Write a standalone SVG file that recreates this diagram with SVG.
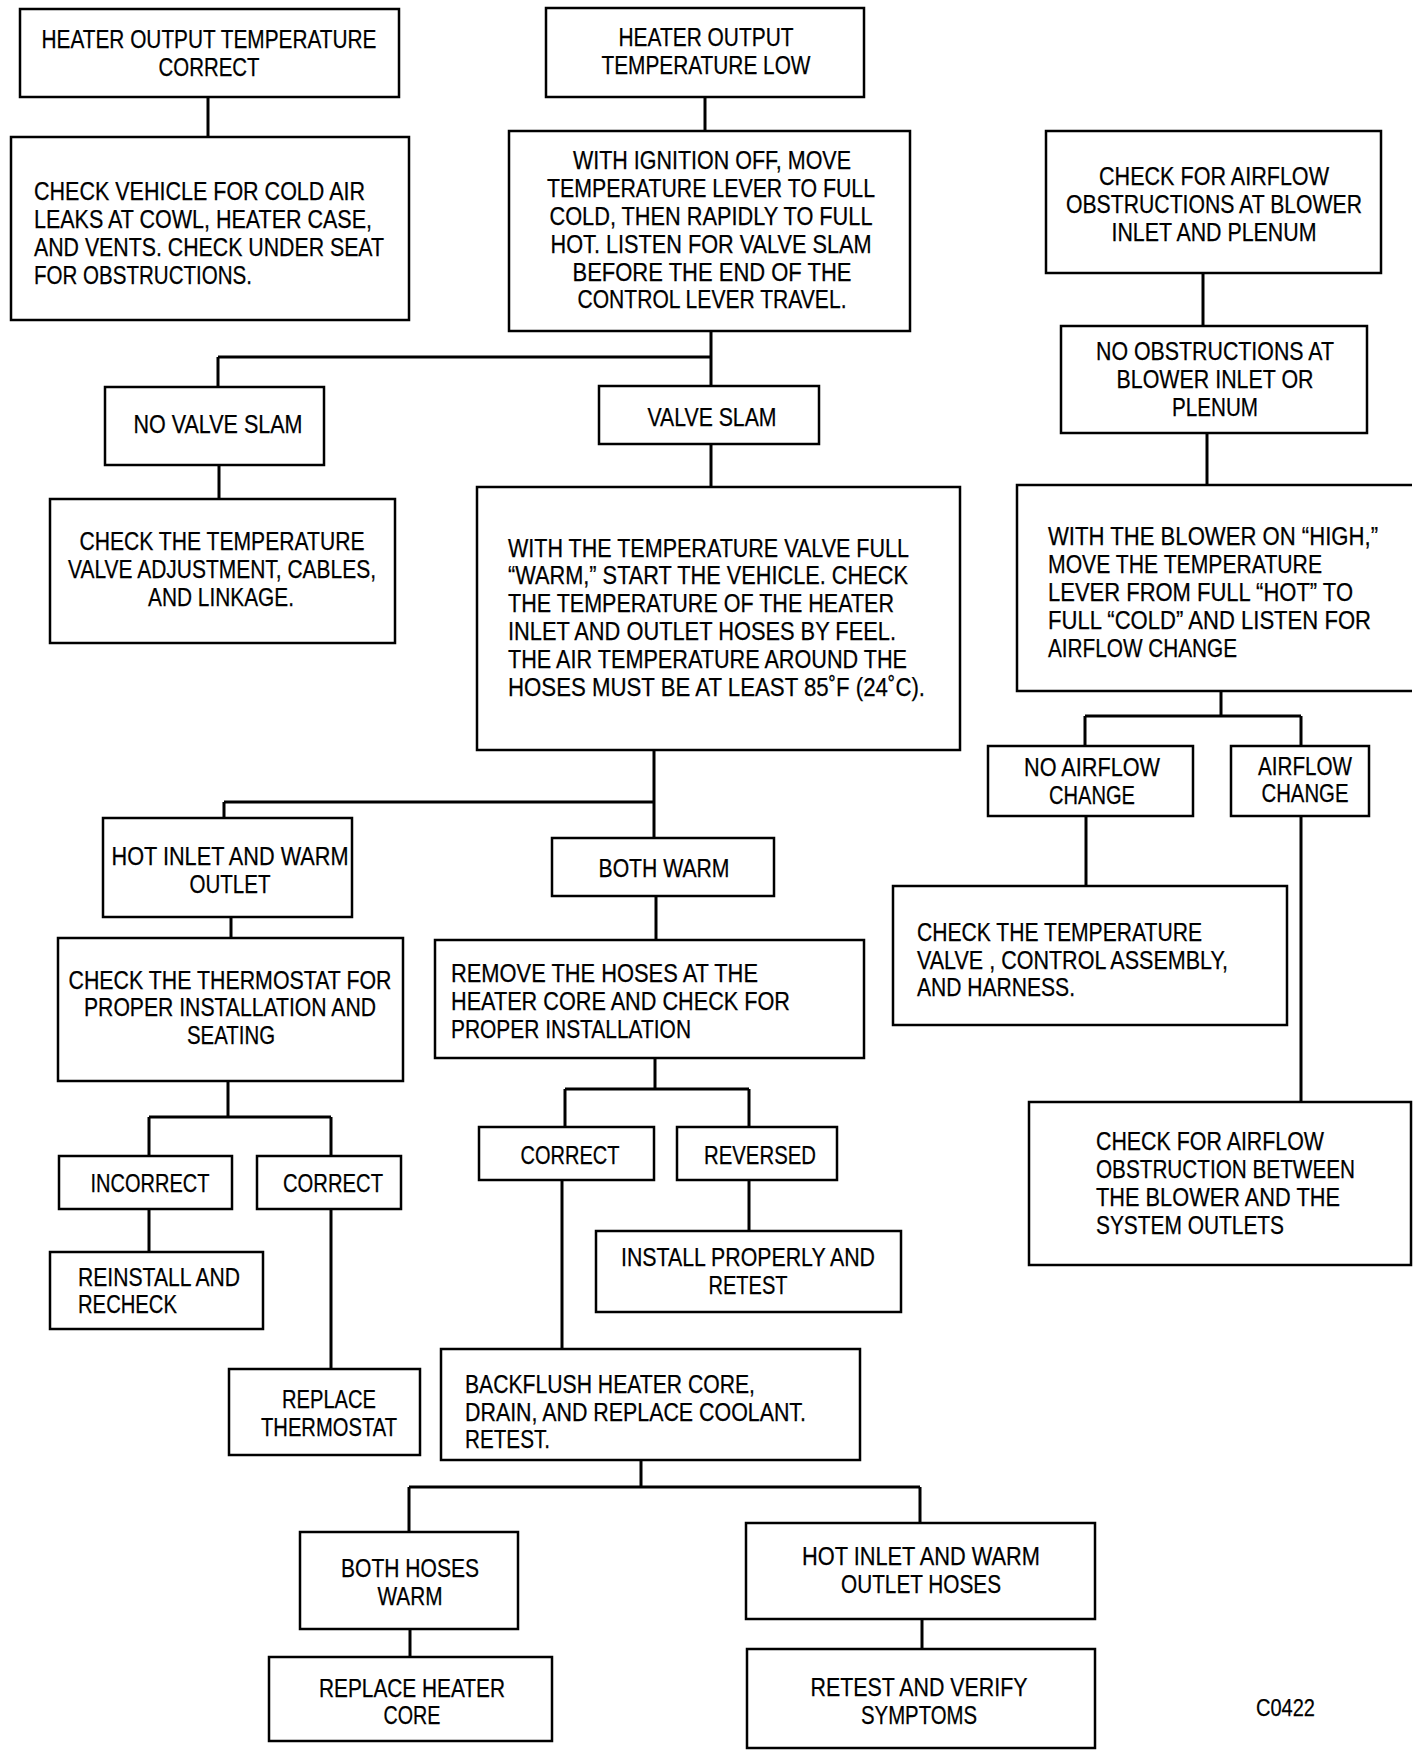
<svg xmlns="http://www.w3.org/2000/svg" width="1424" height="1756" viewBox="0 0 1424 1756">
<style>
.b{fill:#fff;stroke:#000;stroke-width:2.5}
text{font-family:"Liberation Sans",Arial,sans-serif;font-size:25.5px;fill:#000;stroke:#000;stroke-width:0.25}
.m{text-anchor:middle}
#connectors path{fill:none;stroke:#000;stroke-width:3}
</style>
<rect width="1424" height="1756" fill="#fff"/>
<g id="connectors">
<path d="M208 97V137"/>
<path d="M705 97V131"/>
<path d="M711 331V386M218 357H711M218 357V387"/>
<path d="M219 465V499"/>
<path d="M711 444V487"/>
<path d="M1203 273V326"/>
<path d="M1207 433V484"/>
<path d="M1221 691V716M1085 716H1301M1085 716V746M1301 716V746"/>
<path d="M1086 816V886"/>
<path d="M1301 816V1102"/>
<path d="M654 750V838M224 802H654M224 802V818"/>
<path d="M231 917V938"/>
<path d="M656 896V940"/>
<path d="M228 1081V1117M149 1117H331M149 1117V1156M331 1117V1156"/>
<path d="M149 1209V1252"/>
<path d="M331 1209V1369"/>
<path d="M655 1058V1089M565 1089H749M565 1089V1127M749 1089V1127"/>
<path d="M562 1180V1349"/>
<path d="M749 1180V1231"/>
<path d="M641 1460V1487M409 1487H920M409 1487V1532M920 1487V1523"/>
<path d="M410 1629V1657"/>
<path d="M922 1619V1649"/>
</g>
<g id="n1"><rect class="b" x="20" y="9" width="379" height="88"/>
<text class="m" x="209" y="48" textLength="335" lengthAdjust="spacingAndGlyphs">HEATER OUTPUT TEMPERATURE</text>
<text class="m" x="209" y="76" textLength="101" lengthAdjust="spacingAndGlyphs">CORRECT</text></g>
<g id="n2"><rect class="b" x="546" y="8" width="318" height="89"/>
<text class="m" x="706" y="46" textLength="175" lengthAdjust="spacingAndGlyphs">HEATER OUTPUT</text>
<text class="m" x="706" y="74" textLength="209" lengthAdjust="spacingAndGlyphs">TEMPERATURE LOW</text></g>
<g id="n3"><rect class="b" x="11" y="137" width="398" height="183"/>
<text x="34" y="200" textLength="331" lengthAdjust="spacingAndGlyphs">CHECK VEHICLE FOR COLD AIR</text>
<text x="34" y="228" textLength="338" lengthAdjust="spacingAndGlyphs">LEAKS AT COWL, HEATER CASE,</text>
<text x="34" y="256" textLength="350" lengthAdjust="spacingAndGlyphs">AND VENTS. CHECK UNDER SEAT</text>
<text x="34" y="284" textLength="218" lengthAdjust="spacingAndGlyphs">FOR OBSTRUCTIONS.</text></g>
<g id="n4"><rect class="b" x="509" y="131" width="401" height="200"/>
<text class="m" x="712" y="169" textLength="278" lengthAdjust="spacingAndGlyphs">WITH IGNITION OFF, MOVE</text>
<text class="m" x="711" y="197" textLength="328" lengthAdjust="spacingAndGlyphs">TEMPERATURE LEVER TO FULL</text>
<text class="m" x="711" y="225" textLength="323" lengthAdjust="spacingAndGlyphs">COLD, THEN RAPIDLY TO FULL</text>
<text class="m" x="711" y="253" textLength="321" lengthAdjust="spacingAndGlyphs">HOT. LISTEN FOR VALVE SLAM</text>
<text class="m" x="712" y="281" textLength="279" lengthAdjust="spacingAndGlyphs">BEFORE THE END OF THE</text>
<text class="m" x="712" y="308" textLength="269" lengthAdjust="spacingAndGlyphs">CONTROL LEVER TRAVEL.</text></g>
<g id="n5"><rect class="b" x="1046" y="131" width="335" height="142"/>
<text class="m" x="1214" y="185" textLength="230" lengthAdjust="spacingAndGlyphs">CHECK FOR AIRFLOW</text>
<text class="m" x="1214" y="213" textLength="296" lengthAdjust="spacingAndGlyphs">OBSTRUCTIONS AT BLOWER</text>
<text class="m" x="1214" y="241" textLength="205" lengthAdjust="spacingAndGlyphs">INLET AND PLENUM</text></g>
<g id="n6"><rect class="b" x="1061" y="326" width="306" height="107"/>
<text class="m" x="1215" y="360" textLength="238" lengthAdjust="spacingAndGlyphs">NO OBSTRUCTIONS AT</text>
<text class="m" x="1215" y="388" textLength="197" lengthAdjust="spacingAndGlyphs">BLOWER INLET OR</text>
<text class="m" x="1215" y="416" textLength="86" lengthAdjust="spacingAndGlyphs">PLENUM</text></g>
<g id="n7"><rect class="b" x="105" y="387" width="219" height="78"/>
<text class="m" x="218" y="433" textLength="169" lengthAdjust="spacingAndGlyphs">NO VALVE SLAM</text></g>
<g id="n8"><rect class="b" x="599" y="386" width="220" height="58"/>
<text class="m" x="712" y="426" textLength="129" lengthAdjust="spacingAndGlyphs">VALVE SLAM</text></g>
<g id="n9"><rect class="b" x="50" y="499" width="345" height="144"/>
<text class="m" x="222" y="550" textLength="285" lengthAdjust="spacingAndGlyphs">CHECK THE TEMPERATURE</text>
<text class="m" x="222" y="578" textLength="308" lengthAdjust="spacingAndGlyphs">VALVE ADJUSTMENT, CABLES,</text>
<text class="m" x="221" y="606" textLength="146" lengthAdjust="spacingAndGlyphs">AND LINKAGE.</text></g>
<g id="n10"><rect class="b" x="477" y="487" width="483" height="263"/>
<text x="508" y="557" textLength="401" lengthAdjust="spacingAndGlyphs">WITH THE TEMPERATURE VALVE FULL</text>
<text x="508" y="584" textLength="400" lengthAdjust="spacingAndGlyphs">“WARM,” START THE VEHICLE. CHECK</text>
<text x="508" y="612" textLength="386" lengthAdjust="spacingAndGlyphs">THE TEMPERATURE OF THE HEATER</text>
<text x="508" y="640" textLength="388" lengthAdjust="spacingAndGlyphs">INLET AND OUTLET HOSES BY FEEL.</text>
<text x="508" y="668" textLength="399" lengthAdjust="spacingAndGlyphs">THE AIR TEMPERATURE AROUND THE</text>
<text x="508" y="696" textLength="417" lengthAdjust="spacingAndGlyphs">HOSES MUST BE AT LEAST 85˚F (24˚C).</text></g>
<g id="n11"><path class="b" d="M1412 485H1017V691H1412"/>
<text x="1048" y="545" textLength="330" lengthAdjust="spacingAndGlyphs">WITH THE BLOWER ON “HIGH,”</text>
<text x="1048" y="573" textLength="274" lengthAdjust="spacingAndGlyphs">MOVE THE TEMPERATURE</text>
<text x="1048" y="601" textLength="305" lengthAdjust="spacingAndGlyphs">LEVER FROM FULL “HOT” TO</text>
<text x="1048" y="629" textLength="323" lengthAdjust="spacingAndGlyphs">FULL “COLD” AND LISTEN FOR</text>
<text x="1048" y="657" textLength="189" lengthAdjust="spacingAndGlyphs">AIRFLOW CHANGE</text></g>
<g id="n12"><rect class="b" x="988" y="746" width="205" height="70"/>
<text class="m" x="1092" y="776" textLength="136" lengthAdjust="spacingAndGlyphs">NO AIRFLOW</text>
<text class="m" x="1092" y="804" textLength="86" lengthAdjust="spacingAndGlyphs">CHANGE</text></g>
<g id="n13"><rect class="b" x="1231" y="746" width="138" height="70"/>
<text class="m" x="1305" y="775" textLength="94" lengthAdjust="spacingAndGlyphs">AIRFLOW</text>
<text class="m" x="1305" y="802" textLength="87" lengthAdjust="spacingAndGlyphs">CHANGE</text></g>
<g id="n14"><rect class="b" x="103" y="818" width="249" height="99"/>
<text class="m" x="230" y="865" textLength="237" lengthAdjust="spacingAndGlyphs">HOT INLET AND WARM</text>
<text class="m" x="230" y="893" textLength="81" lengthAdjust="spacingAndGlyphs">OUTLET</text></g>
<g id="n15"><rect class="b" x="552" y="838" width="222" height="58"/>
<text class="m" x="664" y="877" textLength="131" lengthAdjust="spacingAndGlyphs">BOTH WARM</text></g>
<g id="n16"><rect class="b" x="893" y="886" width="394" height="139"/>
<text x="917" y="941" textLength="285" lengthAdjust="spacingAndGlyphs">CHECK THE TEMPERATURE</text>
<text x="917" y="969" textLength="311" lengthAdjust="spacingAndGlyphs">VALVE , CONTROL ASSEMBLY,</text>
<text x="917" y="996" textLength="158" lengthAdjust="spacingAndGlyphs">AND HARNESS.</text></g>
<g id="n17"><rect class="b" x="58" y="938" width="345" height="143"/>
<text class="m" x="230" y="989" textLength="323" lengthAdjust="spacingAndGlyphs">CHECK THE THERMOSTAT FOR</text>
<text class="m" x="230" y="1016" textLength="292" lengthAdjust="spacingAndGlyphs">PROPER INSTALLATION AND</text>
<text class="m" x="231" y="1044" textLength="88" lengthAdjust="spacingAndGlyphs">SEATING</text></g>
<g id="n18"><rect class="b" x="435" y="940" width="429" height="118"/>
<text x="451" y="982" textLength="307" lengthAdjust="spacingAndGlyphs">REMOVE THE HOSES AT THE</text>
<text x="451" y="1010" textLength="339" lengthAdjust="spacingAndGlyphs">HEATER CORE AND CHECK FOR</text>
<text x="451" y="1038" textLength="240" lengthAdjust="spacingAndGlyphs">PROPER INSTALLATION</text></g>
<g id="n19"><rect class="b" x="59" y="1156" width="173" height="53"/>
<text class="m" x="150" y="1192" textLength="119" lengthAdjust="spacingAndGlyphs">INCORRECT</text></g>
<g id="n20"><rect class="b" x="257" y="1156" width="144" height="53"/>
<text class="m" x="333" y="1192" textLength="100" lengthAdjust="spacingAndGlyphs">CORRECT</text></g>
<g id="n21"><rect class="b" x="479" y="1127" width="175" height="53"/>
<text class="m" x="570" y="1164" textLength="99" lengthAdjust="spacingAndGlyphs">CORRECT</text></g>
<g id="n22"><rect class="b" x="677" y="1127" width="160" height="53"/>
<text class="m" x="760" y="1164" textLength="112" lengthAdjust="spacingAndGlyphs">REVERSED</text></g>
<g id="n23"><rect class="b" x="1029" y="1102" width="382" height="163"/>
<text x="1096" y="1150" textLength="228" lengthAdjust="spacingAndGlyphs">CHECK FOR AIRFLOW</text>
<text x="1096" y="1178" textLength="259" lengthAdjust="spacingAndGlyphs">OBSTRUCTION BETWEEN</text>
<text x="1096" y="1206" textLength="244" lengthAdjust="spacingAndGlyphs">THE BLOWER AND THE</text>
<text x="1096" y="1234" textLength="188" lengthAdjust="spacingAndGlyphs">SYSTEM OUTLETS</text></g>
<g id="n24"><rect class="b" x="50" y="1252" width="213" height="77"/>
<text x="78" y="1286" textLength="162" lengthAdjust="spacingAndGlyphs">REINSTALL AND</text>
<text x="78" y="1313" textLength="99" lengthAdjust="spacingAndGlyphs">RECHECK</text></g>
<g id="n25"><rect class="b" x="596" y="1231" width="305" height="81"/>
<text class="m" x="748" y="1266" textLength="254" lengthAdjust="spacingAndGlyphs">INSTALL PROPERLY AND</text>
<text class="m" x="748" y="1294" textLength="79" lengthAdjust="spacingAndGlyphs">RETEST</text></g>
<g id="n26"><rect class="b" x="229" y="1369" width="191" height="86"/>
<text class="m" x="329" y="1408" textLength="94" lengthAdjust="spacingAndGlyphs">REPLACE</text>
<text class="m" x="329" y="1436" textLength="136" lengthAdjust="spacingAndGlyphs">THERMOSTAT</text></g>
<g id="n27"><rect class="b" x="441" y="1349" width="419" height="111"/>
<text x="465" y="1393" textLength="290" lengthAdjust="spacingAndGlyphs">BACKFLUSH HEATER CORE,</text>
<text x="465" y="1421" textLength="341" lengthAdjust="spacingAndGlyphs">DRAIN, AND REPLACE COOLANT.</text>
<text x="465" y="1448" textLength="85" lengthAdjust="spacingAndGlyphs">RETEST.</text></g>
<g id="n28"><rect class="b" x="300" y="1532" width="218" height="97"/>
<text class="m" x="410" y="1577" textLength="138" lengthAdjust="spacingAndGlyphs">BOTH HOSES</text>
<text class="m" x="410" y="1605" textLength="65" lengthAdjust="spacingAndGlyphs">WARM</text></g>
<g id="n29"><rect class="b" x="746" y="1523" width="349" height="96"/>
<text class="m" x="921" y="1565" textLength="238" lengthAdjust="spacingAndGlyphs">HOT INLET AND WARM</text>
<text class="m" x="921" y="1593" textLength="160" lengthAdjust="spacingAndGlyphs">OUTLET HOSES</text></g>
<g id="n30"><rect class="b" x="269" y="1657" width="283" height="84"/>
<text class="m" x="412" y="1697" textLength="186" lengthAdjust="spacingAndGlyphs">REPLACE HEATER</text>
<text class="m" x="412" y="1724" textLength="57" lengthAdjust="spacingAndGlyphs">CORE</text></g>
<g id="n31"><rect class="b" x="747" y="1649" width="348" height="99"/>
<text class="m" x="919" y="1696" textLength="217" lengthAdjust="spacingAndGlyphs">RETEST AND VERIFY</text>
<text class="m" x="919" y="1724" textLength="116" lengthAdjust="spacingAndGlyphs">SYMPTOMS</text></g>
<text x="1256" y="1716" textLength="59" lengthAdjust="spacingAndGlyphs" style="font-size:23px">C0422</text>
</svg>
